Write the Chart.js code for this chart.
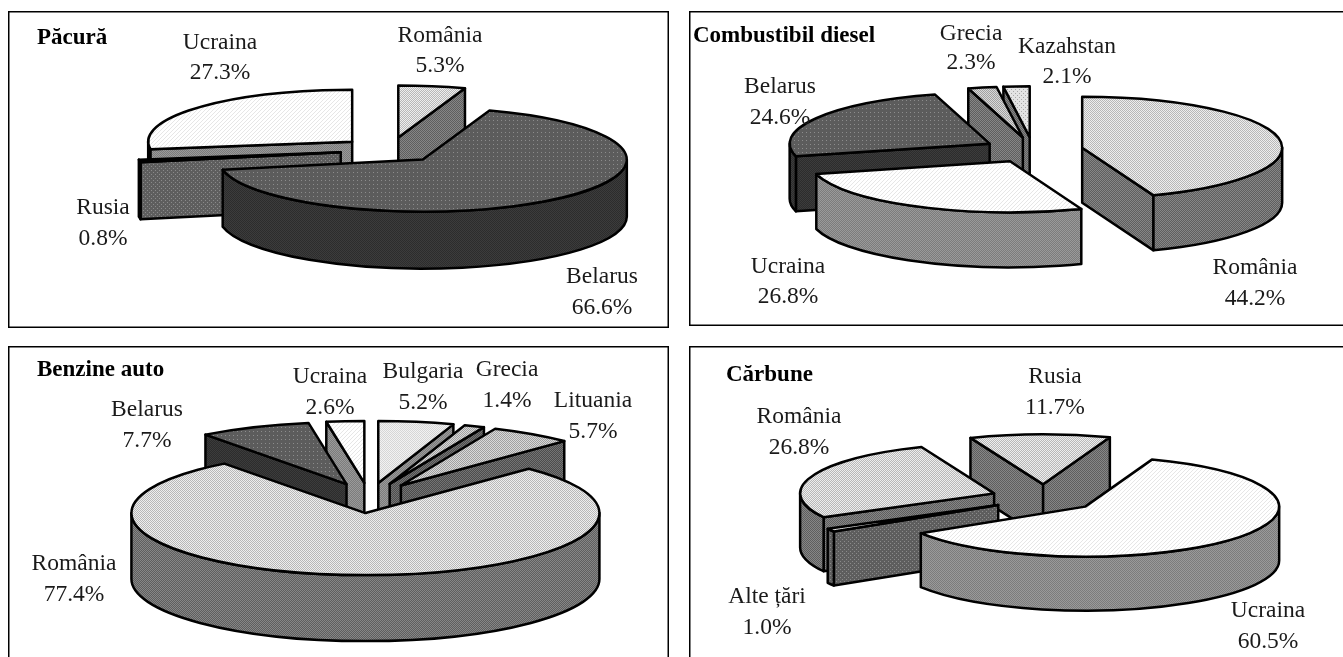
<!DOCTYPE html>
<html>
<head>
<meta charset="utf-8">
<title>Importuri pe țări</title>
<script src="https://cdn.jsdelivr.net/npm/chart.js@4"></script>
<style>
  html, body { margin: 0; padding: 0; background: #fff; overflow: hidden; }
  canvas { position: absolute; }
</style>
</head>
<body>
<canvas id="pacura"></canvas>
<canvas id="diesel"></canvas>
<canvas id="benzine"></canvas>
<canvas id="carbune"></canvas>
<script>
// Data, clockwise from the first slice
const pacuraCountries = ['România', 'Belarus', 'Rusia', 'Ucraina'];
const pacuraShares = [5.3, 66.6, 0.8, 27.3];

const dieselCountries = ['România', 'Ucraina', 'Belarus', 'Grecia', 'Kazahstan'];
const dieselShares = [44.2, 26.8, 24.6, 2.3, 2.1];

const benzineCountries = ['Bulgaria', 'Grecia', 'Lituania', 'România', 'Belarus', 'Ucraina'];
const benzineShares = [5.2, 1.4, 5.7, 77.4, 7.7, 2.6];

const carbuneCountries = ['Rusia', 'Ucraina', 'Alte țări', 'România'];
const carbuneShares = [11.7, 60.5, 1.0, 26.8];

// Small tile patterns, like the dithered fills of the old spreadsheet picture
function tile(size, base, dot, cells) {
  const c = document.createElement('canvas');
  c.width = c.height = size;
  const g = c.getContext('2d');
  g.fillStyle = base;
  g.fillRect(0, 0, size, size);
  g.fillStyle = dot;
  cells.forEach(p => g.fillRect(p[0], p[1], 1, 1));
  return g.createPattern(c, 'repeat');
}
const checker = [[0, 0], [1, 1]];
const sparse = [[0, 0], [2, 2]];
const shades = {
  white: tile(4, '#ffffff', '#e6e6e6', [[0, 3], [1, 2], [2, 1], [3, 0]]),
  pale: tile(2, '#f2f2f2', '#d6d6d6', checker),
  light: tile(2, '#eeeeee', '#b8b8b8', checker),
  silver: tile(2, '#d8d8d8', '#a0a0a0', checker),
  paleDots: tile(4, '#e4e4e4', '#a8a8a8', sparse),
  dark: tile(4, '#5c5c5c', '#8c8c8c', [[1, 1]]),
  sideMid: tile(2, '#5e5e5e', '#868686', checker),
  sideSoft: tile(2, '#7c7c7c', '#9a9a9a', checker),
  sideDark: tile(2, '#4c4c4c', '#747474', checker),
  sideDots: tile(4, '#5e5e5e', '#8a8a8a', [[1, 1], [3, 3]]),
  sideBlack: tile(2, '#2c2c2c', '#3c3c3c', checker)
};

// Layout: frame in page pixels, pie centre, radii, depth of the 3D wall
const panels = [
  {
    id: 'pacura', title: 'Păcură', titleAt: [37, 44],
    countries: pacuraCountries, shares: pacuraShares,
    frame: [8, 11, 661, 317], center: [390, 150], radius: 204, squash: 0.255, depth: 57, explode: 50, rotation: 0,
    tops: ['light', 'dark', 'pale', 'white'],
    sides: ['sideMid', 'sideBlack', 'sideDots', 'sideSoft'],
    labels: [[440, 42, 72], [602, 283, 314], [103, 214, 245], [220, 49, 79]]
  },
  {
    id: 'diesel', title: 'Combustibil diesel', titleAt: [693, 42],
    countries: dieselCountries, shares: dieselShares,
    frame: [689, 11, 660, 315], center: [1033, 150], radius: 200, squash: 0.255, depth: 55, explode: 50, rotation: 0,
    tops: ['light', 'white', 'dark', 'silver', 'paleDots'],
    sides: ['sideMid', 'sideSoft', 'sideBlack', 'sideMid', 'sideMid'],
    labels: [[1255, 274, 305], [788, 273, 303], [780, 93, 124], [971, 40, 69], [1067, 53, 83]]
  },
  {
    id: 'benzine', title: 'Benzine auto', titleAt: [37, 376],
    countries: benzineCountries, shares: benzineShares,
    frame: [8, 346, 661, 340], center: [369, 498], radius: 234, squash: 0.265, depth: 66, explode: 57, rotation: 0,
    tops: ['pale', 'silver', 'silver', 'light', 'dark', 'white'],
    sides: ['sideSoft', 'sideDark', 'sideDark', 'sideMid', 'sideBlack', 'sideSoft'],
    labels: [[423, 378, 409], [507, 376, 407], [593, 407, 438], [74, 570, 601], [147, 416, 447], [330, 383, 414]]
  },
  {
    id: 'carbune', title: 'Cărbune', titleAt: [726, 381],
    countries: carbuneCountries, shares: carbuneShares,
    frame: [689, 346, 660, 340], center: [1044, 498], radius: 194, squash: 0.258, depth: 54, explode: 53, rotation: -22,
    tops: ['light', 'white', 'pale', 'light'],
    sides: ['sideMid', 'sideSoft', 'sideDots', 'sideMid'],
    labels: [[1055, 383, 414], [1268, 617, 648], [767, 603, 634], [799, 423, 454]]
  }
];

const labelFont = '23.5px "Liberation Serif", serif';
const titleFont = 'bold 23px "Liberation Serif", serif';
const lineWidth = 2.5;

// Draws the arcs the pie controller worked out as flattened, extruded slices
const slices3d = {
  id: 'slices3d',
  beforeDatasetsDraw(chart, args, opts) {
    const ctx = chart.ctx;
    const p = opts.panel;
    const arcs = chart.getDatasetMeta(0).data.map((arc, i) => {
      const mid = (arc.startAngle + arc.endAngle) / 2;
      return {
        i: i, a: arc.startAngle, b: arc.endAngle, r: arc.outerRadius,
        x: arc.x + Math.cos(mid) * arc.options.offset,
        y: arc.y + Math.sin(mid) * arc.options.offset * p.squash
      };
    });
    arcs.sort((m, n) => m.y - n.y); // back to front

    ctx.save();
    ctx.lineWidth = lineWidth;
    ctx.strokeStyle = '#000';
    ctx.lineJoin = 'round';

    const paint = fill => {
      ctx.fillStyle = fill;
      ctx.fill();
      ctx.stroke();
    };
    const radialWall = (s, ang) => {
      const ex = s.x + Math.cos(ang) * s.r;
      const ey = s.y + Math.sin(ang) * s.r * p.squash;
      ctx.beginPath();
      ctx.moveTo(s.x, s.y);
      ctx.lineTo(ex, ey);
      ctx.lineTo(ex, ey + p.depth);
      ctx.lineTo(s.x, s.y + p.depth);
      ctx.closePath();
      paint(shades[p.sides[s.i]]);
    };

    arcs.forEach(s => {
      const ry = s.r * p.squash;
      if (Math.cos(s.a) < -0.001) radialWall(s, s.a);
      if (Math.cos(s.b) > 0.001) radialWall(s, s.b);

      const from = Math.max(s.a, 0);
      const to = Math.min(s.b, Math.PI);
      if (to > from) {
        ctx.beginPath();
        ctx.ellipse(s.x, s.y, s.r, ry, 0, from, to);
        ctx.ellipse(s.x, s.y + p.depth, s.r, ry, 0, to, from, true);
        ctx.closePath();
        paint(shades[p.sides[s.i]]);
      }

      ctx.beginPath();
      ctx.moveTo(s.x, s.y);
      ctx.ellipse(s.x, s.y, s.r, ry, 0, s.a, s.b);
      ctx.closePath();
      paint(chart.data.datasets[0].backgroundColor[s.i]);
    });
    ctx.restore();
    return false;
  },
  afterDraw(chart, args, opts) {
    const ctx = chart.ctx;
    const p = opts.panel;
    const ox = p.frame[0];
    const oy = p.frame[1];
    ctx.save();
    ctx.strokeStyle = '#000';
    ctx.lineWidth = 1.5;
    ctx.strokeRect(0.75, 0.75, p.frame[2] - 1.5, p.frame[3] - 1.5);

    ctx.fillStyle = '#1a1a1a';
    ctx.textAlign = 'center';
    ctx.font = labelFont;
    p.labels.forEach((at, i) => {
      ctx.fillText(p.countries[i], at[0] - ox, at[1] - oy);
      ctx.fillText(p.shares[i].toFixed(1) + '%', at[0] - ox, at[2] - oy);
    });
    ctx.textAlign = 'left';
    ctx.font = titleFont;
    ctx.fillStyle = '#000';
    ctx.fillText(p.title, p.titleAt[0] - ox, p.titleAt[1] - oy);
    ctx.restore();
  }
};

panels.forEach(p => {
  const canvas = document.getElementById(p.id);
  canvas.style.left = p.frame[0] + 'px';
  canvas.style.top = p.frame[1] + 'px';
  canvas.width = p.frame[2];
  canvas.height = p.frame[3];

  // chart area is padded so that its middle falls on the pie centre
  const dx = 2 * (p.center[0] - p.frame[0]) - p.frame[2];
  const dy = 2 * (p.center[1] - p.frame[1]) - p.frame[3];

  new Chart(canvas, {
    type: 'pie',
    data: {
      labels: p.countries,
      datasets: [{
        data: p.shares,
        backgroundColor: p.tops.map(k => shades[k]),
        offset: p.explode,
        borderWidth: 0
      }]
    },
    options: {
      responsive: false,
      animation: false,
      radius: p.radius,
      rotation: p.rotation,
      layout: {
        padding: {
          left: Math.max(dx, 0),
          right: Math.max(-dx, 0),
          top: Math.max(dy, 0),
          bottom: Math.max(-dy, 0)
        }
      },
      plugins: {
        legend: { display: false },
        title: { display: false },
        tooltip: { enabled: false },
        slices3d: { panel: p }
      }
    },
    plugins: [slices3d]
  });
});
</script>
</body>
</html>
